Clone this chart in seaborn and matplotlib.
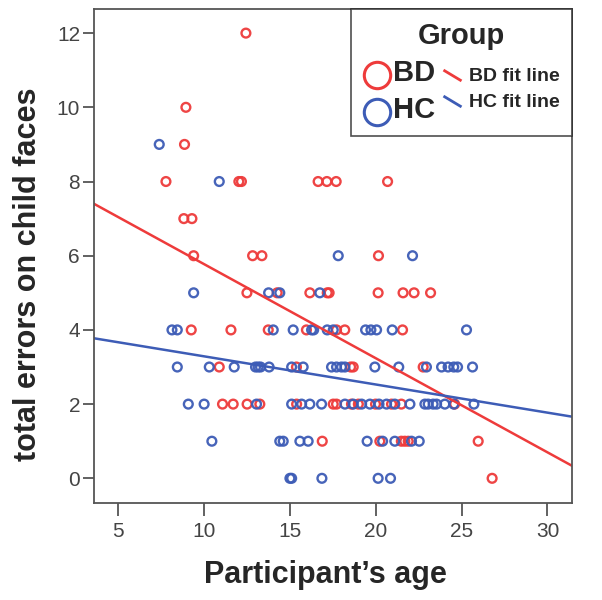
import numpy as np
import pandas as pd
import seaborn as sns
import matplotlib.pyplot as plt
from matplotlib.lines import Line2D
from matplotlib.path import Path

# ages / error counts, one list per group
bd_age = [12.46, 8.97, 8.89,
          7.81, 12.05, 12.2, 16.66, 17.17, 17.71, 20.70,
          8.85, 9.32,
          9.42, 12.85, 13.39, 20.17,
          12.52, 14.28, 16.18, 17.19, 17.3, 20.15, 21.6, 22.24, 23.2,
          9.28, 11.59, 13.76, 15.98, 17.73, 18.21, 21.57,
          10.91, 15.4, 18.55, 18.7, 22.77,
          11.1, 11.72, 12.53, 13.27, 15.41, 17.54, 17.73, 18.6, 19.0, 20.0, 20.93, 21.5, 24.6,
          16.9, 20.25, 21.5, 21.7, 21.9, 25.97,
          26.78]
bd_err = [12, 10, 9,
          8, 8, 8, 8, 8, 8, 8,
          7, 7,
          6, 6, 6, 6,
          5, 5, 5, 5, 5, 5, 5, 5, 5,
          4, 4, 4, 4, 4, 4, 4,
          3, 3, 3, 3, 3,
          2, 2, 2, 2, 2, 2, 2, 2, 2, 2, 2, 2, 2,
          1, 1, 1, 1, 1, 1,
          0]

hc_age = [7.42,
          10.91,
          17.83, 22.15,
          9.42, 13.78, 14.43, 16.76,
          8.16, 8.47, 14.05, 15.21, 16.28, 16.4, 17.19, 17.54, 19.42, 19.73, 20.06, 20.97, 25.29,
          8.47, 10.33, 11.78, 13.02, 13.17, 13.31, 13.81, 15.12, 15.79, 17.44, 17.73, 18.02,
          18.22, 19.96, 21.35, 22.96, 23.84, 24.22, 24.55, 24.77, 25.64,
          9.11, 10.03, 13.08, 15.12, 15.7, 16.18, 16.86, 18.22, 18.7, 19.19, 19.67, 20.2,
          20.64, 21.12, 22.0, 22.87, 23.06, 23.35, 23.55, 24.03, 24.55, 25.72,
          10.48, 14.43, 14.63, 15.6, 16.08, 19.51, 20.41, 21.12, 22.09, 22.54,
          15.02, 15.12, 16.88, 20.15, 20.87]
hc_err = [9,
          8,
          6, 6,
          5, 5, 5, 5,
          4, 4, 4, 4, 4, 4, 4, 4, 4, 4, 4, 4, 4,
          3, 3, 3, 3, 3, 3, 3, 3, 3, 3, 3, 3,
          3, 3, 3, 3, 3, 3, 3, 3, 3,
          2, 2, 2, 2, 2, 2, 2, 2, 2, 2, 2, 2,
          2, 2, 2, 2, 2, 2, 2, 2, 2, 2,
          1, 1, 1, 1, 1, 1, 1, 1, 1, 1,
          0, 0, 0, 0, 0]

# fit lines as shown in the figure: (intercept at age 0, slope)
bd_fit = (8.32, -0.254)
hc_fit = (4.05, -0.076)

groups = ["BD", "HC"]
colors = {"BD": "#ee3b3b", "HC": "#3d5cb6"}
fits = {"BD": bd_fit, "HC": hc_fit}

df = pd.concat([
    pd.DataFrame({"age": bd_age, "errors": bd_err, "Group": "BD"}),
    pd.DataFrame({"age": hc_age, "errors": hc_err, "Group": "HC"}),
])

sns.set_style("white")
plt.rcParams["font.family"] = ["Liberation Sans", "DejaVu Sans"]

fig = plt.figure(figsize=(6.02, 6.0), dpi=100)
ax = fig.add_axes([0.156, 0.162, 0.794, 0.823])

for g in groups:
    sub = df[df["Group"] == g]
    sns.scatterplot(data=sub, x="age", y="errors", ax=ax, s=40, marker="o",
                    facecolors="none", edgecolor=colors[g], linewidth=1.7,
                    alpha=0.95, legend=False)
    b0, b1 = fits[g]
    ax.axline((0, b0), slope=b1, color=colors[g], lw=1.8)

ax.set_xlim(3.62, 31.42)
ax.set_ylim(-0.66, 12.65)
ax.set_xticks([5, 10, 15, 20, 25, 30])
ax.set_yticks([0, 2, 4, 6, 8, 10, 12])
ax.tick_params(axis="x", length=9, width=1.3, color="#555555", labelsize=15,
               labelcolor="#444444", pad=5, direction="out", bottom=True)
ax.tick_params(axis="y", length=8, width=1.3, color="#555555", labelsize=15,
               labelcolor="#444444", pad=2, direction="out", left=True)
for sp in ax.spines.values():
    sp.set_color("#555555")
    sp.set_linewidth(1.3)

ax.set_xlabel("Participant\u2019s age", fontsize=22, fontweight="bold", va="baseline")
ax.set_ylabel("total errors on child faces", fontsize=22, fontweight="bold")
ax.xaxis.set_label_coords(0.484, -0.162)
ax.yaxis.set_label_coords(-0.107, 0.462)

# legend: big circles for groups, short slanted strokes for the fit lines
slash = Path([(-1, 0.6), (1, -0.6)], [Path.MOVETO, Path.LINETO])
handles = [
    Line2D([], [], marker="o", ms=19, mfc="none", mec=colors["BD"], mew=2.2, ls="none"),
    Line2D([], [], marker="o", ms=19, mfc="none", mec=colors["HC"], mew=2.2, ls="none"),
    Line2D([], [], marker=slash, ms=13, mec=colors["BD"], mew=2, ls="none"),
    Line2D([], [], marker=slash, ms=13, mec=colors["HC"], mew=2, ls="none"),
]
labels = ["BD", "HC", "BD fit line", "HC fit line"]
leg = ax.legend(handles, labels, ncol=2, loc="upper right", bbox_to_anchor=(1, 1),
                borderaxespad=0, frameon=True, fancybox=False, title="Group",
                prop={"size": 12}, handletextpad=0.2, columnspacing=0.2,
                handlelength=1.6, labelspacing=0.55, borderpad=0.75)
leg.get_frame().set_edgecolor("#222222")
leg.get_frame().set_linewidth(1.2)
leg.get_title().set_fontsize(21)
leg.get_title().set_fontweight("bold")
for t in leg.get_texts()[:2]:
    t.set_fontsize(21)
    t.set_fontweight("bold")
for t in leg.get_texts()[2:]:
    t.set_fontsize(14)
    t.set_fontweight("bold")

fig.savefig("out.png", dpi=100)
